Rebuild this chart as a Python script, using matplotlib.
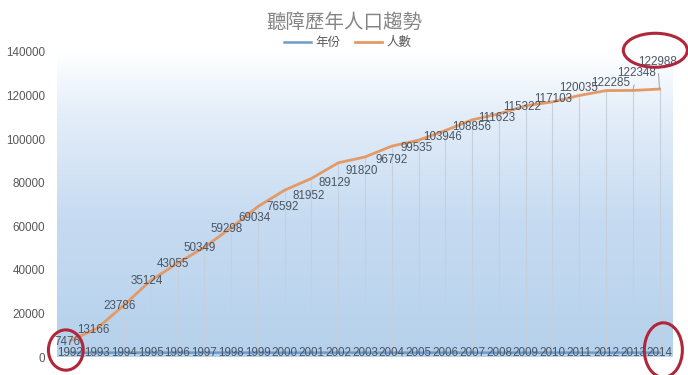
import numpy as np
import matplotlib
matplotlib.use('Agg')
import matplotlib.pyplot as plt
from matplotlib.colors import LinearSegmentedColormap
from matplotlib.patches import Ellipse

plt.rcParams['font.family'] = ['Liberation Sans', 'Noto Sans CJK TC']

years = [1992, 1993, 1994, 1995, 1996, 1997, 1998, 1999, 2000, 2001, 2002, 2003,
         2004, 2005, 2006, 2007, 2008, 2009, 2010, 2011, 2012, 2013, 2014]
people = [7476, 13166, 23786, 35124, 43055, 50349, 59298, 69034, 76592, 81952, 89129, 91820,
          96792, 99535, 103946, 108856, 111623, 115322, 117103, 120035, 122285, 122348, 122988]
yticks = [0, 20000, 40000, 60000, 80000, 100000, 120000, 140000]

# label offsets in pixels (dx, dy), hand placed like the excel chart
label_offsets = [(-3, -1), (-4, -2), (-4, -1), (-4, -1), (-5, -1), (-5, -1), (-4, -1),
                 (-3, -11), (-2, -17), (-3, -18), (-4, -20), (-3, -14), (0, -14), (-2, -8),
                 (-3, -6), (0, -7), (-2, -4), (-4, -1), (1, 3), (-1, 7), (5, 8), (4, 17), (-2, 27)]

text_color = '#4a5563'
blue = '#6f9bc8'
orange = '#e39a66'

fig = plt.figure(figsize=(6.88, 3.75), dpi=100)
ax = fig.add_axes([57 / 688, 18 / 375, 616 / 688, 305 / 375])
x = np.arange(len(years))
ax.set_xlim(-0.5, len(years) - 0.5)
ax.set_ylim(0, 140000)

# gradient background of the plot area
cmap = LinearSegmentedColormap.from_list(
    'bg', [(0, '#b6d1ec'), (0.45, '#c6dbf1'), (0.8, '#e4eef9'), (1, '#ffffff')])
grad = np.linspace(0, 1, 256).reshape(-1, 1)
ax.imshow(grad, cmap=cmap, origin='lower', aspect='auto', zorder=0,
          extent=(-0.5, len(years) - 0.5, 0, 140000))

# drop lines
ax.vlines(x, 0, people, color='#c5d0dc', lw=0.8, zorder=1)

ax.plot(x, years, color=blue, lw=1.8, zorder=2, label='年份')
ax.plot(x, people, color=orange, lw=2.0, zorder=3, label='人數')

for i, (yr, v) in enumerate(zip(years, people)):
    ax.annotate(str(yr), (x[i], yr), ha='center', va='center', fontsize=8.4,
                color=text_color, zorder=4)
    dx, dy = label_offsets[i]
    lead = dict(arrowstyle='-', color='#a8a8a8', lw=0.8, shrinkA=2, shrinkB=0) if i >= 21 else None
    ax.annotate(str(v), (x[i], v), xytext=(dx, dy), textcoords='offset pixels',
                ha='center', va='center', fontsize=8.4, color=text_color, zorder=4,
                arrowprops=lead)

ax.set_yticks(yticks)
ax.set_yticklabels([str(t) for t in yticks])
ax.set_xticks([])
ax.tick_params(axis='y', length=0, pad=8.5, labelsize=8.4, labelcolor='#595959')
for s in ax.spines.values():
    s.set_visible(False)

fig.text(0.5, 1 - 23 / 375, '聽障歷年人口趨勢', ha='center', va='center',
         fontsize=14, color='#858585')
fig.legend(loc='center', bbox_to_anchor=(0.505, 1 - 43 / 375), ncol=2, frameon=False,
           fontsize=9, labelcolor='#595959', handlelength=2.2, handletextpad=0.3,
           columnspacing=1.2)

# red hand-drawn circles around first / last entries
ring = dict(fill=False, ec='#b0263a', lw=2.2, clip_on=False, zorder=6)
ax.add_patch(Ellipse((x[0] - 0.17, 3200), 1.3, 18500, **ring))
ax.add_patch(Ellipse((x[-1] + 0.14, 3200), 1.42, 25000, **ring))
ax.add_patch(Ellipse((x[-1] - 0.16, 140800), 2.39, 15600, **ring))

fig.savefig('out.png', dpi=100)
